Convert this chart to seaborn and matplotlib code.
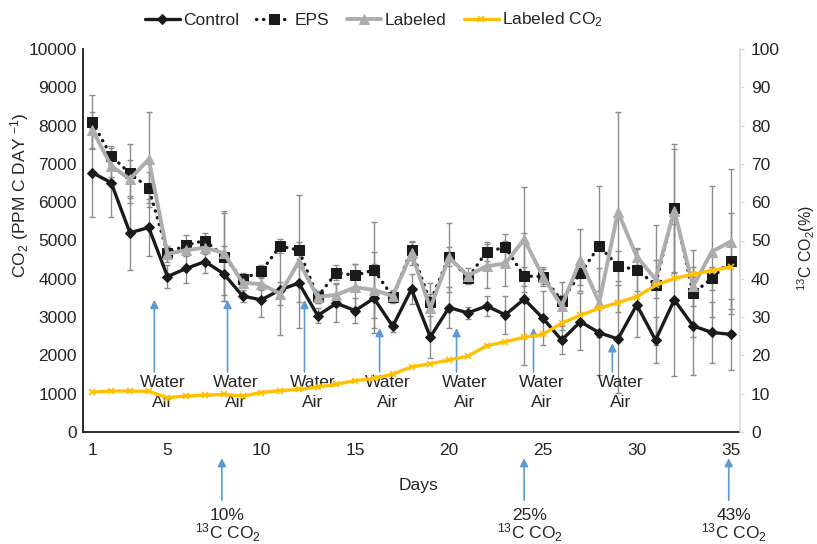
import numpy as np
import pandas as pd
import seaborn as sns
import matplotlib.pyplot as plt

# data
days = list(range(1, 36))
control = [6770, 6510, 5200, 5340, 4060, 4270, 4450, 4130, 3550, 3450,
           3710, 3890, 3040, 3360, 3170, 3490, 2760, 3730, 2480, 3250,
           3110, 3290, 3060, 3470, 2970, 2400, 2880, 2590, 2430, 3320,
           2400, 3450, 2770, 2600, 2550]
eps = [8090, 7210, 6750, 6380, 4670, 4880, 5000, 4580, 3990, 4200,
       4850, 4750, 3530, 4160, 4090, 4230, 3530, 4750, 3400, 4580,
       4010, 4710, 4820, 4070, 4060, 3430, 4140, 4860, 4330, 4240,
       3840, 5840, 3620, 4010, 4470]
labeled = [7890, 6950, 6600, 7120, 4650, 4750, 4810, 4670, 3900, 3860,
           3610, 4450, 3530, 3580, 3780, 3710, 3550, 4670, 3230, 4560,
           4080, 4330, 4400, 5030, 4060, 3290, 4490, 3380, 5750, 4580,
           3990, 5780, 3800, 4710, 4970]
labeled_co2 = [10.4, 10.7, 10.7, 10.6, 9.0, 9.4, 9.6, 9.8, 9.4, 10.3,
               10.8, 11.1, 11.7, 12.5, 13.4, 14.0, 15.1, 17.0, 17.8, 18.8,
               19.8, 22.5, 23.6, 24.7, 25.5, 28.4, 30.5, 32.3, 33.8, 35.3,
               38.3, 40.1, 41.2, 42.1, 43.1]

control_err = [1160, 900, 960, 740, 300, 375, 300, 720, 150, 440,
               1170, 500, 200, 500, 320, 900, 150, 400, 550, 540,
               150, 250, 500, 1720, 700, 370, 740, 1100, 1400, 830,
               590, 1990, 1280, 800, 930]
eps_err = [700, 250, 770, 400, 150, 260, 200, 1150, 150, 150,
           180, 220, 150, 200, 300, 1260, 150, 250, 200, 250,
           150, 250, 350, 250, 200, 150, 300, 1550, 400, 550,
           1570, 1680, 1130, 300, 1250]
labeled_err = [470, 300, 500, 1240, 200, 150, 150, 1100, 100, 150,
               300, 1740, 150, 300, 600, 1000, 150, 300, 650, 900,
               200, 570, 600, 1370, 250, 630, 800, 900, 2610, 220,
               500, 1600, 500, 1710, 1900]

# treatment events
water_days = [4.3, 8.2, 12.3, 16.3, 20.4, 24.5, 28.7]
water_tip = [3450, 3450, 3450, 2715, 2715, 2715, 2320]
label_days = [7.9, 24.0, 34.9]
label_pct = ['10%', '25%', '43%']

sns.set_theme(style="white")
plt.rcParams['font.family'] = ['Liberation Sans', 'DejaVu Sans']
plt.rcParams['mathtext.fontset'] = 'custom'
plt.rcParams['mathtext.rm'] = 'Liberation Sans'
plt.rcParams['mathtext.it'] = 'Liberation Sans:italic'
plt.rcParams['mathtext.bf'] = 'Liberation Sans:bold'

df = pd.DataFrame({'day': days, 'control': control, 'eps': eps,
                   'labeled': labeled, 'labeled_co2': labeled_co2})

txt = '#262626'
blue = '#5b9bd5'
fs = 12.5

fig = plt.figure(figsize=(8.17, 5.44), dpi=100)
ax = fig.add_axes([83 / 817, 1 - 432 / 544, 657 / 817, 383 / 544])
ax2 = ax.twinx()

# error bars behind the lines
for vals, err in [(control, control_err), (eps, eps_err), (labeled, labeled_err)]:
    ax.errorbar(days, vals, yerr=err, fmt='none', ecolor='#8c8c8c',
                elinewidth=1.0, capsize=2, capthick=1.0, zorder=1)

sns.lineplot(data=df, x='day', y='control', ax=ax, color='#1a1a1a', lw=2.4,
             marker='D', markersize=5.5, markeredgecolor='#1a1a1a',
             label='Control', zorder=3)
sns.lineplot(data=df, x='day', y='eps', ax=ax, color='#1a1a1a', lw=2.4,
             linestyle=(0, (0.1, 2.0)), dash_capstyle='round',
             marker='s', markersize=6.5, markeredgecolor='#1a1a1a',
             label='EPS', zorder=4)
sns.lineplot(data=df, x='day', y='labeled', ax=ax, color='#adadad', lw=2.8,
             marker='^', markersize=7, markeredgecolor='#adadad',
             label='Labeled', zorder=5)
sns.lineplot(data=df, x='day', y='labeled_co2', ax=ax2, color='#ffc000', lw=2.4,
             marker='x', markersize=5, markeredgewidth=1.2,
             markeredgecolor='#ffc000', label='Labeled CO$_2$', zorder=6)

ax.set_xlim(0.5, 35.5)
ax.set_ylim(0, 10000)
ax.set_xticks([1, 5, 10, 15, 20, 25, 30, 35])
ax.set_yticks(np.arange(0, 10001, 1000))
ax2.set_ylim(0, 100)
ax2.set_yticks(np.arange(0, 101, 10))

ax.tick_params(axis='x', length=0, labelsize=fs, labelcolor=txt, pad=8)
ax.tick_params(axis='y', length=0, labelsize=fs, labelcolor=txt, pad=4.5)
ax2.tick_params(axis='y', length=3, color='#d9d9d9', width=1,
                labelsize=fs, labelcolor=txt, pad=5)

for s in ['top', 'right']:
    ax.spines[s].set_visible(False)
for s in ['left', 'bottom']:
    ax.spines[s].set_color('#1a1a1a')
    ax.spines[s].set_linewidth(1.3)
for s in ['top', 'left', 'bottom']:
    ax2.spines[s].set_visible(False)
ax2.spines['right'].set_color('#d9d9d9')
ax2.spines['right'].set_linewidth(1.2)

ax.set_xlabel('Days', fontsize=fs, color=txt)
ax.xaxis.set_label_coords(0.511, -0.121)
ax.set_ylabel('')
ax2.set_ylabel('')
fig.text(20 / 817, 1 - 195 / 544, 'CO$_2$ (PPM C DAY $^{-1}$)', rotation=90,
         ha='center', va='center', fontsize=fs, color=txt)
fig.text(806 / 817, 1 - 248 / 544, '$^{13}$C CO$_2$(%)', rotation=90,
         ha='center', va='center', fontsize=fs - 1, color=txt)

# water / air events
for d, tip in zip(water_days, water_tip):
    ax.annotate('', xy=(d, tip), xytext=(d, 1570),
                arrowprops=dict(arrowstyle='-|>', color=blue, lw=1.2,
                                mutation_scale=12, shrinkA=0, shrinkB=0),
                zorder=2)
    ax.text(d + 0.45, 1305, 'Water', ha='center', va='center',
            fontsize=fs, color=txt, zorder=2)
    ax.text(d + 0.45, 783, 'Air', ha='center', va='center',
            fontsize=fs, color=txt, zorder=2)

# 13C label additions below the axis
trans = ax.get_xaxis_transform()
for d, p in zip(label_days, label_pct):
    ax.annotate('', xy=(d, -0.068), xycoords=trans, xytext=(d, -0.178),
                textcoords=trans, annotation_clip=False,
                arrowprops=dict(arrowstyle='-|>', color=blue, lw=1.2,
                                mutation_scale=12, shrinkA=0, shrinkB=0))
    ax.text(d + 0.3, -0.218, p, transform=trans, ha='center', va='center',
            fontsize=fs, color=txt)
    ax.text(d + 0.3, -0.264, '$^{13}$C CO$_2$', transform=trans,
            ha='center', va='center', fontsize=fs, color=txt)

h1, l1 = ax.get_legend_handles_labels()
h2, l2 = ax2.get_legend_handles_labels()
ax.legend_.remove()
ax2.legend_.remove()
fig.legend(h1 + h2, l1 + l2, loc='center', bbox_to_anchor=(374 / 817, 1 - 20 / 544),
           ncol=4, frameon=False, fontsize=fs, handlelength=2.0,
           columnspacing=1.0, handletextpad=0.2, labelcolor=txt)

plt.savefig('out.png', dpi=100)
